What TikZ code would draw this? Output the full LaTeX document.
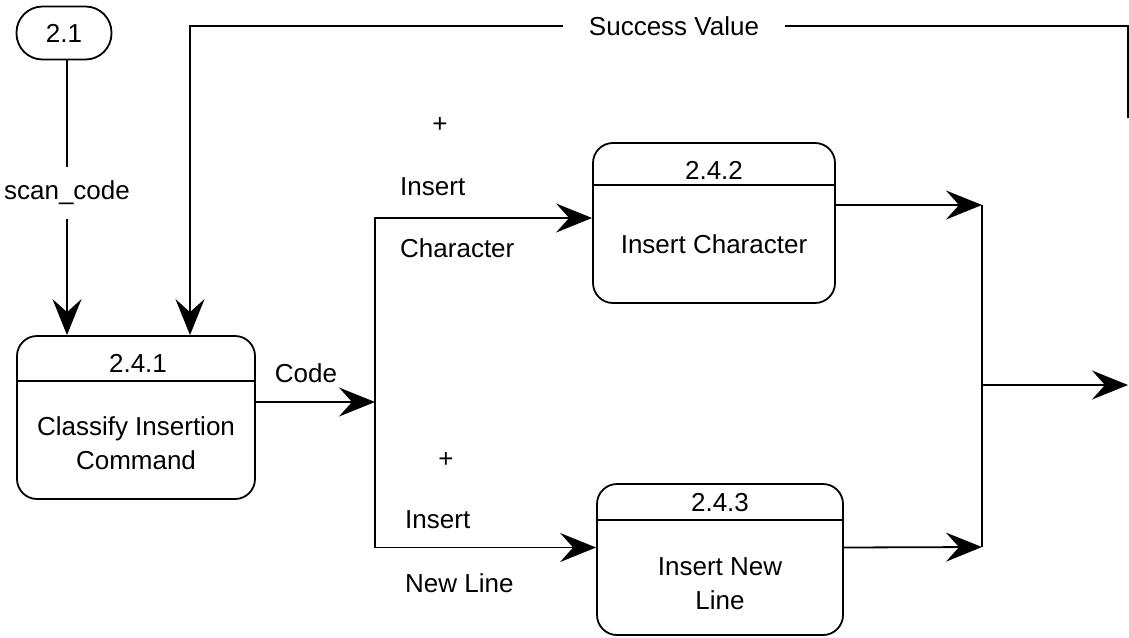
\documentclass[tikz,border=0pt]{standalone}
\usepackage{fontspec}
\setmainfont{Liberation Sans}
\usetikzlibrary{arrows.meta,calc}
\begin{document}
\begin{tikzpicture}[x=1pt,y=-1pt,
  every node/.style={font=\fontsize{26}{34}\selectfont, inner sep=0pt},
  flow/.style={line width=1.8pt},
  arr/.style={flow,-{Stealth[length=36pt,width=29pt,inset=13pt]}},
  proc/.style={draw, line width=1.8pt, rounded corners=20pt, rectangle},
  term/.style={draw, line width=1.8pt, rounded corners=26pt, rectangle,
    minimum width=95pt, minimum height=53pt},
  lbl/.style={anchor=west}]
\useasboundingbox (0,0) rectangle (1129,637);

% processes
\node[term] (n21) at (64,33) {2.1};
\node[proc, minimum width=238pt, minimum height=163pt] (b241) at (136,417.5) {};
\node[proc, minimum width=242pt, minimum height=160pt] (b242) at (714,223) {};
\node[proc, minimum width=246pt, minimum height=151pt] (b243) at (720,559.5) {};

% dividers and process texts
\draw[flow] (b241.west |- 0,381) -- (b241.east |- 0,381);
\draw[flow] (b242.west |- 0,185) -- (b242.east |- 0,185);
\draw[flow] (b243.west |- 0,520) -- (b243.east |- 0,520);
\node (t241) at (138,363) {2.4.1};
\node[align=center] (c241) at (136,443) {Classify Insertion\\Command};
\node (t242) at (714,170) {2.4.2};
\node (c242) at (714,244) {Insert Character};
\node (t243) at (720,503) {2.4.3};
\node[align=center] (c243) at (720,584) {Insert New\\Line};

% scan code input
\node[inner sep=14pt] (scan) at (67,193) {scan\_code};
\draw[flow] (n21.south -| scan) -- (scan.north);
\draw[arr] (scan.south) -- (b241.north -| scan);

% success value feedback
\coordinate (rtEnd) at (1128,118);
\node[inner ysep=0pt, inner xsep=26pt] (sv) at (674,26) {Success Value};
\coordinate (fb) at (190,0);
\draw[flow] (rtEnd) |- (sv.east);
\draw[arr] (sv.west) -| (b241.north -| fb);

% classification output
\coordinate (split) at (375,402);
\draw[arr] (b241.east |- split) -- (split);
\node (code) at (306,373) {Code};
\draw[arr] (split) |- ([yshift=5pt]b242.west);
\draw[arr] (split) |- ([yshift=12pt]b243.west);

\node (plus1) at (440,125) {+};
\node[lbl] (ins1) at (400,187) {Insert};
\node[lbl] (chr1) at (400,248) {Character};
\node (plus2) at (446,460) {+};
\node[lbl] (ins2) at (405,520) {Insert};
\node[lbl] (nl2) at (405,583) {New Line};

% merge of the two results
\coordinate (mtop) at (982,205);
\coordinate (mbot) at (982,547);
\coordinate (mout) at (982,385);
\coordinate (out) at (1128,385);
\draw[arr] ([yshift=18pt]b242.east) -- (mtop);
\draw[arr] ([yshift=12pt]b243.east) -- (mbot);
\draw[flow] (mtop) -- (mbot);
\draw[arr] (mout) -- (out);
\end{tikzpicture}
\end{document}
